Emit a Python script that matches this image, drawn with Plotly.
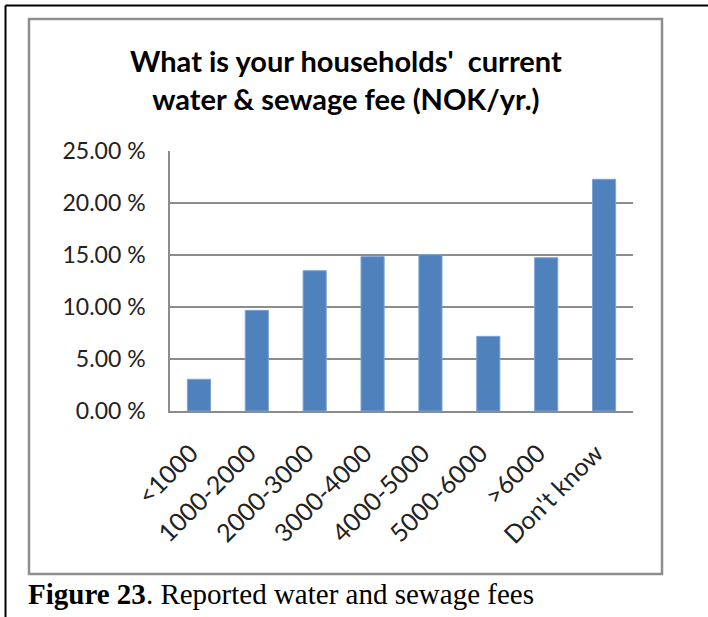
import plotly.graph_objects as go

# Survey answers: annual water & sewage fee bands
categories = ["<1000", "1000-2000", "2000-3000", "3000-4000", "4000-5000",
              "5000-6000", ">6000", "Don't know"]
shares = [3.05, 9.68, 13.49, 14.84, 15.03, 7.18, 14.74, 22.28]

y_ticks = [0, 5, 10, 15, 20, 25]
y_tick_labels = ["0.00 %", "5.00 %", "10.00 %", "15.00 %", "20.00 %", "25.00 %"]

W, H = 708, 617
BAR = "#4F81BD"
GRID = "#8C8C8C"
FONT = "Lato, 'Open Sans', sans-serif"
TEXT = "#222222"


def px_x(x):
    return x / W


def px_y(y):
    return 1 - y / H


fig = go.Figure(
    go.Bar(
        x=categories,
        y=shares,
        marker=dict(color=BAR, line=dict(color="#7FA3D3", width=1)),
        hoverinfo="x+y",
    )
)

fig.update_layout(
    width=W,
    height=H,
    autosize=False,
    margin=dict(l=0, r=0, t=0, b=0, pad=0, autoexpand=False),
    paper_bgcolor="white",
    plot_bgcolor="white",
    bargap=0.6,
    showlegend=False,
    font=dict(family=FONT, color=TEXT),
    xaxis=dict(
        domain=[px_x(170), px_x(633)],
        automargin=False,
        showline=True,
        linecolor=GRID,
        linewidth=1.5,
        showgrid=False,
        tickangle=-45,
        ticks="",
        ticklabelstandoff=16,
        ticklabelshift=-8,
        tickfont=dict(size=25, family=FONT, color=TEXT),
    ),
    yaxis=dict(
        domain=[px_y(411), px_y(151)],
        automargin=False,
        range=[0, 25],
        tickvals=y_ticks,
        ticktext=y_tick_labels,
        showline=True,
        linecolor=GRID,
        linewidth=1.5,
        showgrid=True,
        gridcolor=GRID,
        gridwidth=1.5,
        zeroline=False,
        ticks="",
        ticklabelstandoff=18,
        tickfont=dict(size=23, family=FONT, color=TEXT),
    ),
    shapes=[
        # outer frame (top and left rules)
        dict(type="line", xref="paper", yref="paper",
             x0=px_x(5.5), x1=1, y0=px_y(5.5), y1=px_y(5.5),
             line=dict(color="black", width=2)),
        dict(type="line", xref="paper", yref="paper",
             x0=px_x(5.5), x1=px_x(5.5), y0=px_y(5.5), y1=0,
             line=dict(color="black", width=2)),
        # chart area border
        dict(type="rect", xref="paper", yref="paper",
             x0=px_x(29), x1=px_x(662), y0=px_y(574), y1=px_y(19),
             line=dict(color="#8E8E8E", width=2.5)),
    ],
    annotations=[
        dict(
            text="<b>What is your households'  current<br>water & sewage fee (NOK/yr.)</b>",
            xref="paper", yref="paper",
            x=px_x(345.5), y=px_y(79),
            xanchor="center", yanchor="middle",
            showarrow=False,
            align="center",
            font=dict(family=FONT, size=29, color="black"),
        ),
        dict(
            text="<b>Figure 23</b>. Reported water and sewage fees",
            xref="paper", yref="paper",
            x=px_x(26), y=px_y(594),
            xanchor="left", yanchor="middle",
            showarrow=False,
            font=dict(family="'Liberation Serif', 'Times New Roman', serif",
                      size=29, color="black"),
        ),
    ],
)

fig.write_html("out.html")
